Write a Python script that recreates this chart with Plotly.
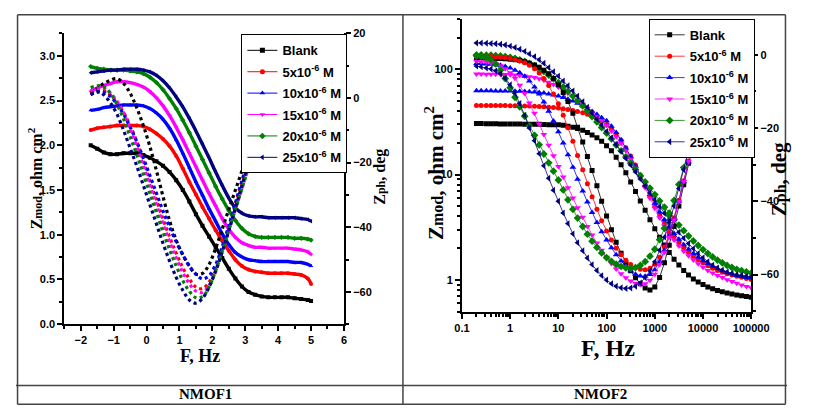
import plotly.graph_objects as go

# The page keeps its default 8px body margin, so the figure is 16px smaller than the window
# and every position below is given in window pixels, shifted by that margin.
WIN_W, WIN_H = 813, 419
OFF = 8
W, H = WIN_W - 2 * OFF, WIN_H - 2 * OFF

# ---------------- NMOF1 (left): x axis is log(F) ----------------
logf1 = [-1.7, -1.5, -1.3, -1.1, -0.9, -0.7, -0.5, -0.3, -0.1, 0.1, 0.3, 0.5, 0.7, 0.9,
         1.1, 1.3, 1.5, 1.7, 1.9, 2.1, 2.3, 2.5, 2.7, 2.9, 3.1, 3.3, 3.5, 3.7, 3.9, 4.1,
         4.3, 4.5, 4.7, 4.9, 5.0]

mod1_blank = [2.00, 1.96, 1.92, 1.90, 1.90, 1.91, 1.91, 1.91, 1.89, 1.86, 1.82, 1.77, 1.70, 1.61,
              1.50, 1.37, 1.23, 1.10, 0.98, 0.86, 0.74, 0.62, 0.51, 0.42, 0.36, 0.33, 0.31, 0.30,
              0.30, 0.30, 0.30, 0.29, 0.28, 0.27, 0.26]
mod1_5 = [2.17, 2.19, 2.20, 2.21, 2.22, 2.22, 2.22, 2.22, 2.21, 2.18, 2.13, 2.07, 1.99, 1.88,
          1.74, 1.59, 1.45, 1.31, 1.18, 1.05, 0.93, 0.82, 0.72, 0.65, 0.61, 0.59, 0.58, 0.57,
          0.57, 0.57, 0.57, 0.56, 0.55, 0.51, 0.45]
mod1_10 = [2.39, 2.40, 2.42, 2.43, 2.44, 2.45, 2.45, 2.45, 2.44, 2.41, 2.36, 2.29, 2.19, 2.06,
           1.91, 1.75, 1.59, 1.44, 1.29, 1.15, 1.01, 0.89, 0.80, 0.75, 0.72, 0.71, 0.70, 0.70,
           0.70, 0.70, 0.70, 0.69, 0.69, 0.67, 0.65]
mod1_15 = [2.60, 2.64, 2.67, 2.69, 2.71, 2.71, 2.70, 2.68, 2.65, 2.60, 2.53, 2.44, 2.33, 2.20,
           2.06, 1.91, 1.76, 1.61, 1.46, 1.32, 1.18, 1.06, 0.97, 0.91, 0.88, 0.86, 0.86, 0.85,
           0.85, 0.85, 0.85, 0.84, 0.83, 0.81, 0.78]
mod1_20 = [2.88, 2.86, 2.85, 2.84, 2.84, 2.84, 2.83, 2.82, 2.80, 2.76, 2.70, 2.62, 2.52, 2.41,
           2.28, 2.14, 1.99, 1.84, 1.69, 1.54, 1.40, 1.27, 1.16, 1.07, 1.01, 0.98, 0.97, 0.97,
           0.97, 0.97, 0.97, 0.96, 0.96, 0.95, 0.94]
mod1_25 = [2.81, 2.82, 2.83, 2.84, 2.84, 2.85, 2.85, 2.85, 2.84, 2.82, 2.78, 2.72, 2.64, 2.54,
           2.43, 2.30, 2.16, 2.01, 1.86, 1.70, 1.55, 1.41, 1.30, 1.24, 1.21, 1.20, 1.20, 1.19,
           1.19, 1.19, 1.19, 1.19, 1.18, 1.17, 1.15]

ph1_blank = [1.5, 3.0, 4.5, 5.5, 6.0, 4.5, 1.5, -3.0, -8.5, -15, -22.5, -30.5, -38, -44,
             -48.5, -52, -54.5, -54.3, -51.5, -46.5, -40.5, -34.5, -28.5, -22.5, -16.5, -11,
             -6.5, -3, -0.5, 1, 2, 2.5, 3, 3, 3]
ph1_5 = [1.5, 2.3, 2.3, 1.0, -1.5, -4.5, -8.5, -13.5, -19.5, -25.5, -31.5, -37.5, -43, -48,
         -52.5, -56, -58.5, -59, -57, -52.5, -46.5, -40, -33, -26, -19.5, -13.5, -8.5, -4.5,
         -1.5, 0.5, 1.5, 2, 2.5, 2.5, 2.5]
ph1_10 = [1.0, 1.8, 1.8, 0.5, -2, -5, -9, -13.5, -18.5, -24, -29.5, -35, -40, -44.5, -48.5,
          -52, -54.5, -56, -55, -51.5, -46, -39.5, -32.5, -25.5, -19, -13, -8, -4, -1.5, 0.5,
          1.5, 2, 2, 2, 2]
ph1_15 = [2.2, 3, 3, 1.5, -1, -4.5, -9.5, -15, -21, -27, -33, -39, -44.5, -49.5, -54, -57.5,
          -59.8, -60.2, -58, -53.5, -47.5, -41, -34.5, -28, -21.5, -15.5, -10, -5.5, -2.5,
          -0.5, 1, 1.5, 2, 2, 2]
ph1_20 = [3.2, 3.8, 3.5, 1.5, -2, -6.5, -12, -17.5, -23.5, -29.5, -35.5, -41.5, -47, -52,
          -56.5, -59.8, -61.8, -61.5, -58.5, -53.5, -47.5, -41, -34.5, -28, -21.5, -15, -9.5,
          -5, -2, 0, 1.5, 2, 2.5, 2.5, 2.5]
ph1_25 = [1.0, 2.0, 1.0, -1.5, -5, -10, -15.5, -21, -27, -33, -39, -45, -50.5, -55.5, -59.5,
          -62.5, -63.5, -62, -58.5, -53.5, -47.5, -41, -34, -27, -20, -13.5, -8, -4, -1, 1,
          2, 2.5, 3, 3, 3]

# ---------------- NMOF2 (right): frequency in Hz ----------------
freq2 = [0.2, 0.25, 0.32, 0.4, 0.5, 0.63, 0.79, 1, 1.26, 1.58, 2, 2.5, 3.2, 4, 5, 6.3, 7.9,
         10, 12.6, 15.8, 20, 25, 32, 40, 50, 63, 79, 100, 126, 158, 200, 251, 316, 398, 501,
         631, 794, 1000, 1259, 1585, 1995, 2512, 3162, 3981, 5012, 6310, 7943, 10000, 12589,
         15849, 19953, 25119, 31623, 39811, 50119, 63096, 79433, 100000]

mod2_blank = [30.5, 30.5, 30.4, 30.4, 30.4, 30.3, 30.3, 30.3, 30.2, 30.2, 30.1, 30.1, 30.0,
              30.0, 29.9, 29.8, 29.8, 29.8, 29.4, 28.8, 28.2, 27.4, 26.3, 25.1, 23.8, 22.4,
              20.7, 18.8, 16.8, 14.6, 12.4, 10.4, 8.51, 6.92, 5.62, 4.57, 3.72, 3.05, 2.54,
              2.14, 1.82, 1.57, 1.38, 1.23, 1.11, 1.02, 0.955, 0.902, 0.857, 0.822, 0.794,
              0.771, 0.752, 0.735, 0.719, 0.706, 0.695, 0.682]
mod2_5 = [45.3, 45.3, 45.3, 45.3, 45.2, 45.2, 45.2, 45.1, 45.1, 45.0, 44.9, 44.8, 44.6, 44.4,
          44.1, 43.7, 43.3, 42.8, 42.2, 41.5, 40.7, 39.8, 38.7, 37.3, 35.6, 33.9, 32.0, 29.9,
          27.2, 24.3, 21.1, 18.0, 15.0, 12.3, 9.89, 7.85, 6.24, 5.01, 4.12, 3.47, 2.95, 2.57,
          2.26, 2.02, 1.83, 1.67, 1.55, 1.45, 1.36, 1.29, 1.23, 1.18, 1.14, 1.11, 1.08, 1.06,
          1.03, 1.01]
mod2_10 = [62.4, 62.4, 62.4, 62.4, 62.2, 62.2, 62.1, 62.1, 61.9, 61.8, 61.5, 61.2, 60.8, 60.3,
           59.4, 58.3, 56.9, 55.6, 54.0, 52.0, 49.9, 47.5, 45.0, 42.4, 39.8, 37.2, 34.7, 32.4,
           28.8, 25.1, 21.4, 17.8, 14.8, 12.0, 9.77, 7.94, 6.46, 5.31, 4.42, 3.72, 3.16, 2.75,
           2.43, 2.16, 1.95, 1.78, 1.64, 1.52, 1.43, 1.35, 1.28, 1.22, 1.17, 1.14, 1.10, 1.08,
           1.05, 1.04]
mod2_15 = [90.2, 90.2, 89.9, 89.9, 89.7, 89.5, 89.3, 88.9, 88.3, 87.5, 86.5, 85.1, 83.6, 81.3,
           78.5, 75.3, 71.6, 67.6, 63.5, 59.2, 55.0, 50.7, 46.6, 42.7, 38.9, 35.5, 32.4, 29.2,
           26.0, 22.9, 19.7, 16.8, 14.0, 11.5, 9.33, 7.50, 5.96, 4.79, 3.89, 3.24, 2.75, 2.39,
           2.10, 1.87, 1.69, 1.54, 1.42, 1.32, 1.23, 1.16, 1.10, 1.05, 1.00, 0.962, 0.927,
           0.895, 0.867, 0.841]
mod2_20 = [137, 137, 136, 136, 135, 134, 132, 130, 127, 123, 119, 114, 108, 102, 95.1, 88.1,
           81.3, 74.5, 67.9, 61.7, 55.7, 50.1, 44.9, 40.1, 35.6, 31.6, 28.0, 24.7, 21.8, 19.1,
           16.8, 14.7, 12.8, 11.2, 9.77, 8.51, 7.41, 6.46, 5.62, 4.90, 4.29, 3.76, 3.31, 2.93,
           2.61, 2.34, 2.12, 1.94, 1.78, 1.65, 1.54, 1.45, 1.37, 1.31, 1.26, 1.22, 1.19, 1.16]
mod2_25 = [178, 178, 177, 176, 175, 173, 170, 166, 161, 155, 148, 140, 132, 123, 114, 104,
           94.8, 86.1, 77.6, 69.7, 62.4, 55.6, 49.3, 43.7, 38.5, 33.7, 29.5, 25.7, 22.3, 19.3,
           16.6, 14.3, 12.3, 10.6, 9.08, 7.80, 6.70, 5.75, 4.95, 4.29, 3.72, 3.24, 2.83, 2.49,
           2.21, 1.98, 1.78, 1.62, 1.49, 1.38, 1.30, 1.24, 1.19, 1.15, 1.12, 1.10, 1.08, 1.07]

ph2_blank = [-0.8, -0.8, -0.9, -0.9, -1.0, -1.0, -1.1, -1.2, -1.4, -1.6, -1.9, -2.3, -2.8, -3.4,
             -4.2, -5.2, -6.5, -8.2, -10.3, -12.8, -16.0, -19.8, -23.8, -27.8, -31.6, -35.8,
             -40.0, -44.0, -47.8, -51.2, -54.2, -56.8, -59.0, -60.9, -62.5, -63.7, -64.2,
             -63.4, -60.8, -56.8, -52.0, -46.8, -41.3, -35.5, -29.6, -23.9, -18.6, -14.0,
             -10.3, -7.4, -5.2, -3.6, -2.5, -1.7, -1.2, -0.8, -0.5, -0.3]
ph2_5 = [-0.4, -0.4, -0.5, -0.5, -0.6, -0.7, -0.8, -1.0, -1.3, -1.7, -2.2, -2.9, -3.8, -5.0,
         -6.5, -8.4, -10.7, -13.4, -16.5, -19.9, -23.6, -27.5, -31.4, -35.2, -38.8, -42.2,
         -45.3, -48.1, -50.6, -52.8, -54.6, -56.1, -57.3, -58.1, -58.6, -58.7, -58.3, -57.2,
         -55.3, -52.5, -48.9, -44.6, -39.7, -34.4, -29.0, -23.8, -19.0, -14.7, -11.1, -8.1,
         -5.8, -4.0, -2.7, -1.8, -1.2, -0.7, -0.4, -0.2]
ph2_10 = [-2.4, -2.4, -2.5, -2.6, -2.7, -2.9, -3.2, -3.6, -4.2, -4.9, -5.9, -7.2, -8.8, -10.7,
          -12.9, -15.4, -18.1, -21.0, -24.1, -27.3, -30.7, -34.0, -37.2, -40.2, -43.1, -45.8,
          -48.3, -50.6, -52.7, -54.6, -56.3, -57.8, -59.0, -59.9, -60.4, -60.5, -60.0, -58.7,
          -56.5, -53.4, -49.5, -45.0, -40.0, -34.7, -29.3, -24.1, -19.2, -14.9, -11.2, -8.2,
          -5.8, -4.0, -2.7, -1.8, -1.1, -0.7, -0.4, -0.2]
ph2_15 = [-1.8, -1.9, -2.0, -2.2, -2.5, -3.0, -3.8, -4.9, -6.4, -8.3, -10.6, -13.2, -16.0,
          -18.9, -21.8, -24.7, -27.6, -30.5, -33.4, -36.3, -39.1, -41.8, -44.4, -46.9, -49.2,
          -51.4, -53.4, -55.3, -57.0, -58.5, -59.8, -60.9, -61.8, -62.4, -62.7, -62.5, -61.6,
          -59.9, -57.3, -53.9, -49.8, -45.1, -40.0, -34.6, -29.1, -23.8, -18.8, -14.4, -10.7,
          -7.7, -5.4, -3.7, -2.5, -1.6, -1.0, -0.6, -0.3, -0.1]
ph2_20 = [-0.3, -0.5, -0.8, -1.3, -2.5, -4.2, -6.5, -9.0, -11.6, -14.2, -16.8, -19.4, -22.0,
          -24.6, -27.1, -29.5, -31.8, -34.2, -36.9, -39.6, -42.2, -44.6, -46.9, -49.0, -50.9,
          -52.6, -54.1, -55.4, -56.4, -57.2, -57.8, -58.2, -58.3, -58.1, -57.5, -56.5, -55.0,
          -53.1, -50.5, -47.4, -43.8, -39.8, -35.4, -30.8, -26.1, -21.5, -17.2, -13.3, -10.0,
          -7.3, -5.2, -3.6, -2.4, -1.5, -0.9, -0.5, -0.2, 0.0]
ph2_25 = [-3.1, -3.3, -3.6, -3.9, -4.4, -5.2, -6.4, -8.2, -10.5, -13.3, -16.5, -20.0, -23.5,
          -27.0, -30.3, -33.7, -37.0, -40.0, -43.2, -46.1, -48.9, -51.3, -53.5, -55.5, -57.3,
          -58.9, -60.3, -61.5, -62.5, -63.2, -63.6, -63.8, -63.7, -63.2, -62.3, -60.9, -59.0,
          -56.5, -53.4, -49.8, -45.8, -41.3, -36.5, -31.4, -26.3, -21.3, -16.6, -12.5, -9.0,
          -6.5, -4.5, -3.0, -2.0, -1.3, -0.8, -0.4, -0.1, 0.2]

labels = ["Blank", "5x10<sup>-6</sup> M", "10x10<sup>-6</sup> M", "15x10<sup>-6</sup> M",
          "20x10<sup>-6</sup> M", "25x10<sup>-6</sup> M"]
colors = ["#000000", "#ff0000", "#0000ff", "#ff00ff", "#008000", "#000080"]
symbols = ["square", "circle", "triangle-up", "triangle-down", "diamond", "triangle-left"]
sizes = [5, 5, 6, 6, 6, 6]
freq_ticks = [0.1, 1, 10, 100, 1000, 10000, 100000]
freq_ticktext = ["0.1", "1", "10", "100", "1000", "10000", "100000"]

mod1 = [mod1_blank, mod1_5, mod1_10, mod1_15, mod1_20, mod1_25]
ph1 = [ph1_blank, ph1_5, ph1_10, ph1_15, ph1_20, ph1_25]
mod2 = [mod2_blank, mod2_5, mod2_10, mod2_15, mod2_20, mod2_25]
ph2 = [ph2_blank, ph2_5, ph2_10, ph2_15, ph2_20, ph2_25]


def px(x):
    return (x - OFF) / W


def py(y):
    return 1 - (y - OFF) / H


fig = go.Figure()

for i in range(6):
    c = colors[i]
    fig.add_trace(go.Scatter(x=logf1, y=mod1[i], xaxis="x", yaxis="y", mode="lines+markers",
                             line=dict(color=c, width=3.4, shape="spline"),
                             marker=dict(symbol=symbols[i], size=4, color=c), showlegend=False))
for i in range(6):
    c = colors[i]
    fig.add_trace(go.Scatter(x=logf1, y=ph1[i], xaxis="x", yaxis="y2", mode="lines",
                             line=dict(color=c, width=3.2, dash="dot", shape="spline"),
                             showlegend=False))
    # legend entry for the left panel
    fig.add_trace(go.Scatter(x=[None], y=[None], xaxis="x", yaxis="y", mode="lines+markers",
                             name=labels[i], legend="legend", legendgroup="a%d" % i,
                             line=dict(color=c, width=1),
                             marker=dict(symbol=symbols[i], size=5, color=c)))

for i in range(6):
    c = colors[i]
    fig.add_trace(go.Scatter(x=freq2, y=mod2[i], xaxis="x2", yaxis="y3", mode="lines+markers",
                             name=labels[i], legend="legend2", legendgroup="b%d" % i,
                             line=dict(color=c, width=0.8),
                             marker=dict(symbol=symbols[i], size=sizes[i], color=c)))
    fig.add_trace(go.Scatter(x=freq2, y=ph2[i], xaxis="x2", yaxis="y4", mode="lines+markers",
                             line=dict(color=c, width=0.8), showlegend=False,
                             marker=dict(symbol=symbols[i], size=sizes[i], color=c)))

tickf = dict(family="Liberation Sans", size=11, color="black", weight="bold")
axis_common = dict(showline=True, linewidth=2, linecolor="black", ticks="outside", ticklen=5,
                   tickwidth=1.5, tickcolor="black", showgrid=False, zeroline=False,
                   tickfont=tickf)
legend_font = dict(family="Liberation Sans", size=13, color="black", weight="bold")

fig.update_layout(
    width=W, height=H, margin=dict(l=0, r=0, t=0, b=0),
    paper_bgcolor="white", plot_bgcolor="rgba(0,0,0,0)",
    xaxis=dict(domain=[px(58), px(347)], anchor="y", range=[-2.5, 6], tick0=0, dtick=1,
               minor=dict(ticks="outside", ticklen=3, tickcolor="black", dtick=0.5, tick0=0),
               **axis_common),
    yaxis=dict(domain=[py(327.7), py(28)], anchor="x", range=[0, 3.25], tick0=0, dtick=0.5,
               tickformat=".1f",
               minor=dict(ticks="outside", ticklen=3, tickcolor="black", dtick=0.25, tick0=0),
               **axis_common),
    yaxis2=dict(overlaying="y", side="right", anchor="x", range=[-70, 20], tick0=0, dtick=20,
                minor=dict(ticks="outside", ticklen=3, tickcolor="black", dtick=10, tick0=0),
                **axis_common),
    xaxis2=dict(domain=[px(469), px(768)], anchor="y3", type="log", range=[-1, 5],
                tickmode="array", tickvals=freq_ticks, ticktext=freq_ticktext,
                minor=dict(ticks="outside", ticklen=3, tickcolor="black", dtick="D1"),
                **axis_common),
    yaxis3=dict(domain=[py(315), py(13)], anchor="x2", type="log", range=[-0.304, 2.479],
                tickmode="array", tickvals=[1, 10, 100], ticktext=["1", "10", "100"],
                minor=dict(ticks="outside", ticklen=3, tickcolor="black", dtick="D1"),
                **axis_common),
    yaxis4=dict(overlaying="y3", side="right", anchor="x2", range=[-70.2, 9.8], tick0=0,
                dtick=20,
                minor=dict(ticks="outside", ticklen=3, tickcolor="black", dtick=10, tick0=0),
                **axis_common),
    legend=dict(x=px(241), y=py(29), xanchor="left", yanchor="top", bgcolor="white",
                bordercolor="black", borderwidth=1, itemwidth=30, tracegroupgap=1.5,
                font=legend_font),
    legend2=dict(x=px(662), y=py(13), xanchor="left", yanchor="top", bgcolor="white",
                 bordercolor="black", borderwidth=1, itemwidth=30, tracegroupgap=1.5,
                 font=legend_font),
)

shapes = []
# legend shadows
for (x0, y0, w, h) in [(241, 29, 102, 136), (662, 13, 102, 136)]:
    shapes.append(dict(type="rect", xref="paper", yref="paper", x0=px(x0 + 4), x1=px(x0 + w + 4),
                       y0=py(y0 + h + 4), y1=py(y0 + 4), fillcolor="black", line=dict(width=0),
                       layer="above"))
# table frame
line = dict(color="#444444", width=1.5)
for (x0, y0, x1, y1) in [(0.002, 0.002, 0.998, 0.002), (0.002, 0.998, 0.998, 0.998),
                         (0.002, 0.002, 0.002, 0.998), (0.998, 0.002, 0.998, 0.998)]:
    shapes.append(dict(type="line", xref="paper", yref="paper", x0=x0, x1=x1, y0=y0, y1=y1,
                       line=line))
for (x0, y0, x1, y1) in [(408, 2, 408, 417), (2, 391, 811, 391)]:
    shapes.append(dict(type="line", xref="paper", yref="paper", x0=max(px(x0), 0),
                       x1=min(px(x1), 1), y0=min(py(y0), 1), y1=max(py(y1), 0), line=line))
fig.update_layout(shapes=shapes)

serif = "Liberation Serif"
ann = [
    (28, 177, "Z<span style='font-size:12px'>mod</span>, ohm cm<sup>2</sup>", 16, -90),
    (384, 176, "Z<span style='font-size:12px'>ph</span>, deg", 16, -90),
    (198, 360, "F, Hz", 18, 0),
    (440, 172, "Z<span style='font-size:16px'>mod</span>, ohm cm<sup>2</sup>", 21, -90),
    (797, 178, "Z<span style='font-size:16px'>ph</span>, deg", 21, -90),
    (620, 352, "F, Hz", 24, 0),
    (204, 400, "NMOF1", 15, 0),
    (612, 400, "NMOF2", 15, 0),
]
annotations = []
for (x, y, t, s, a) in ann:
    annotations.append(dict(xref="paper", yref="paper", x=px(x), y=py(y), text=t, showarrow=False,
                            textangle=a, xanchor="center", yanchor="middle",
                            font=dict(family=serif, size=s, color="black", weight="bold")))
fig.update_layout(annotations=annotations)

fig.write_html("out.html", config={"displayModeBar": False})
